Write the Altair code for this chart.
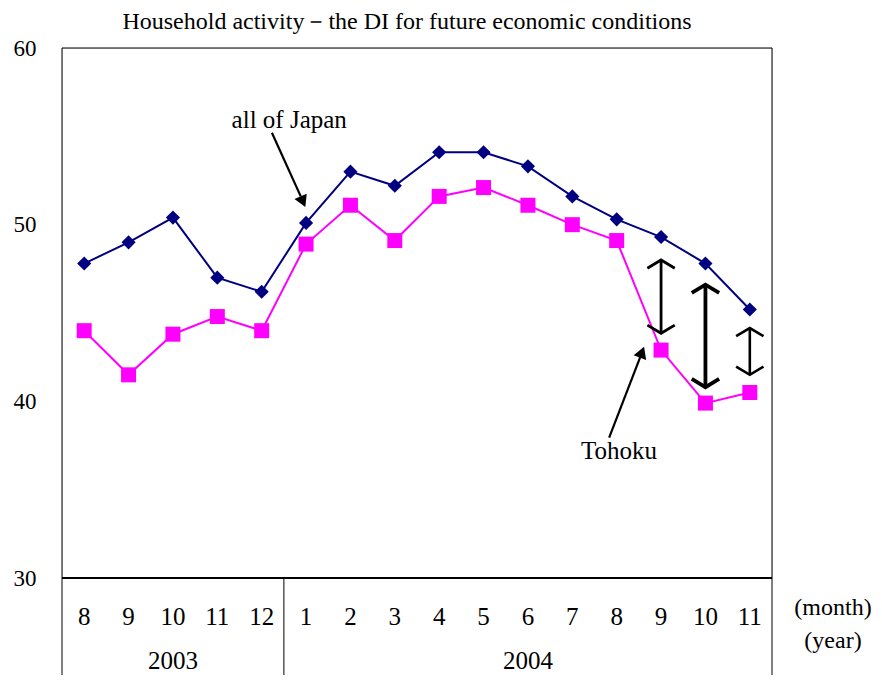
import altair as alt
import pandas as pd

months = ["8", "9", "10", "11", "12", "1", "2", "3", "4", "5", "6", "7", "8", "9", "10", "11"]
japan = [47.8, 49.0, 50.4, 47.0, 46.2, 50.1, 53.0, 52.2, 54.1, 54.1, 53.3, 51.6, 50.3, 49.3, 47.8, 45.2]
tohoku = [44.0, 41.5, 43.8, 44.8, 44.0, 48.9, 51.1, 49.1, 51.6, 52.1, 51.1, 50.0, 49.1, 42.9, 39.9, 40.5]
years = ["2003", "2004"]
year_pos = [2.5, 10.5]

# frame / table lines (data coordinates)
rule_x = [0, 0, 0, 16, 5]
rule_x2 = [16, 16, 0, 16, 5]
rule_y = [60, 30, 23.5, 23.5, 23.5]
rule_y2 = [60, 30, 60, 60, 30]
rule_w = [1, 2, 1, 1, 1]

# double-headed gap arrows
gap_x = [13.5, 14.5, 15.5]
gap_top = [48.0, 46.6, 44.15]
gap_bot = [43.85, 40.8, 41.5]
gap_w = [2.8, 3.8, 2.6]

# single annotation arrows
ann_label = ["all of Japan", "Tohoku"]
ann_tx = [5.12, 12.55]
ann_ty = [55.5, 36.75]
arr_x = [4.73, 12.33]
arr_y = [55.2, 37.95]
arr_x2 = [5.38, 13.03]
arr_y2 = [51.6, 42.5]
tip_x = [5.43, 13.07]
tip_y = [51.3, 42.78]
tip_angle = [156, 21]

FONT = "Liberation Serif"
idx = [i + 0.5 for i in range(len(months))]

xs = alt.Scale(domain=[0, 16])
ys = alt.Scale(domain=[30, 60], nice=False, zero=False)

series = pd.DataFrame({"x": idx, "japan": japan, "tohoku": tohoku, "month": months})
rules = pd.DataFrame({"x": rule_x, "x2": rule_x2, "y": rule_y, "y2": rule_y2, "w": rule_w})
gaps = pd.DataFrame({"x": gap_x, "top": gap_top, "bot": gap_bot, "w": gap_w})
ann = pd.DataFrame({"label": ann_label, "tx": ann_tx, "ty": ann_ty, "ax": arr_x, "ay": arr_y,
                    "ax2": arr_x2, "ay2": arr_y2, "px": tip_x, "py": tip_y, "ang": tip_angle})
yrs = pd.DataFrame({"x": year_pos, "year": years})

base = alt.Chart(series)

frame = alt.Chart(rules).mark_rule(color="black").encode(
    x=alt.X("x:Q", scale=xs, axis=None), x2="x2:Q",
    y=alt.Y("y:Q", scale=ys, axis=alt.Axis(values=[30, 40, 50, 60], ticks=False, domain=False,
                                             grid=False, title=None, labelFont=FONT,
                                             labelFontSize=23, labelColor="black",
                                             labelPadding=26)),
    y2="y2:Q",
    strokeWidth=alt.StrokeWidth("w:Q", scale=None),
)

jl = base.mark_line(color="#000080", strokeWidth=2).encode(
    x=alt.X("x:Q", scale=xs), y=alt.Y("japan:Q", scale=ys))
jp = base.mark_point(shape="diamond", filled=True, color="#000080", size=200, opacity=1).encode(
    x=alt.X("x:Q", scale=xs), y=alt.Y("japan:Q", scale=ys))
tl = base.mark_line(color="#FF00FF", strokeWidth=2).encode(
    x=alt.X("x:Q", scale=xs), y=alt.Y("tohoku:Q", scale=ys))
tp = base.mark_point(shape="square", filled=True, color="#FF00FF", size=225, opacity=1).encode(
    x=alt.X("x:Q", scale=xs), y=alt.Y("tohoku:Q", scale=ys))

TXT = dict(font=FONT, fontSize=25, color="black", baseline="alphabetic")
mlab = base.mark_text(**TXT).encode(
    x=alt.X("x:Q", scale=xs), y=alt.value(577), text="month:N")
ylab = alt.Chart(yrs).mark_text(**TXT).encode(
    x=alt.X("x:Q", scale=xs), y=alt.value(621), text="year:N")
TXT2 = dict(TXT, fontSize=24)
unit_m = alt.Chart(pd.DataFrame({"t": ["(month)"]})).mark_text(align="center", **TXT2).encode(
    x=alt.value(771), y=alt.value(567), text="t:N")
unit_y = alt.Chart(pd.DataFrame({"t": ["(year)"]})).mark_text(align="center", **TXT2).encode(
    x=alt.value(771), y=alt.value(600), text="t:N")
title = alt.Chart(pd.DataFrame({"t": ["Household activity－the DI for future economic conditions"]})).mark_text(
    align="center", **TXT2).encode(
    x=alt.value(345), y=alt.value(-19), text="t:N")

gap_shaft = alt.Chart(gaps).mark_rule(color="black").encode(
    x=alt.X("x:Q", scale=xs), y=alt.Y("top:Q", scale=ys), y2="bot:Q",
    strokeWidth=alt.StrokeWidth("w:Q", scale=None))
gap_up = alt.Chart(gaps).mark_point(shape="M-1,0.6L0,0L1,0.6", filled=False, color="black",
                                    size=750, opacity=1).encode(
    x=alt.X("x:Q", scale=xs), y=alt.Y("top:Q", scale=ys),
    strokeWidth=alt.StrokeWidth("w:Q", scale=None))
gap_dn = alt.Chart(gaps).mark_point(shape="M-1,-0.6L0,0L1,-0.6", filled=False, color="black",
                                    size=750, opacity=1).encode(
    x=alt.X("x:Q", scale=xs), y=alt.Y("bot:Q", scale=ys),
    strokeWidth=alt.StrokeWidth("w:Q", scale=None))

ann_text = alt.Chart(ann).mark_text(**TXT).encode(
    x=alt.X("tx:Q", scale=xs), y=alt.Y("ty:Q", scale=ys), text="label:N")
ann_shaft = alt.Chart(ann).mark_rule(color="black", strokeWidth=2.2).encode(
    x=alt.X("ax:Q", scale=xs), x2="ax2:Q", y=alt.Y("ay:Q", scale=ys), y2="ay2:Q")
ann_tip = alt.Chart(ann).mark_point(shape="triangle-up", filled=True, color="black", size=180,
                                    opacity=1).encode(
    x=alt.X("px:Q", scale=xs), y=alt.Y("py:Q", scale=ys), angle=alt.Angle("ang:Q", scale=None))

chart = alt.layer(
    frame, tl, jl, tp, jp, gap_shaft, gap_up, gap_dn, ann_shaft, ann_tip, ann_text,
    mlab, ylab, unit_m, unit_y, title,
).properties(
    width=710, height=530,
    autosize=alt.AutoSizeParams(type="none"),
    padding={"left": 54, "top": 40, "right": 102, "bottom": 97},
).configure_view(stroke=None).configure(background="white")

chart.save("out.html", embed_options={"renderer": "svg", "actions": False})
